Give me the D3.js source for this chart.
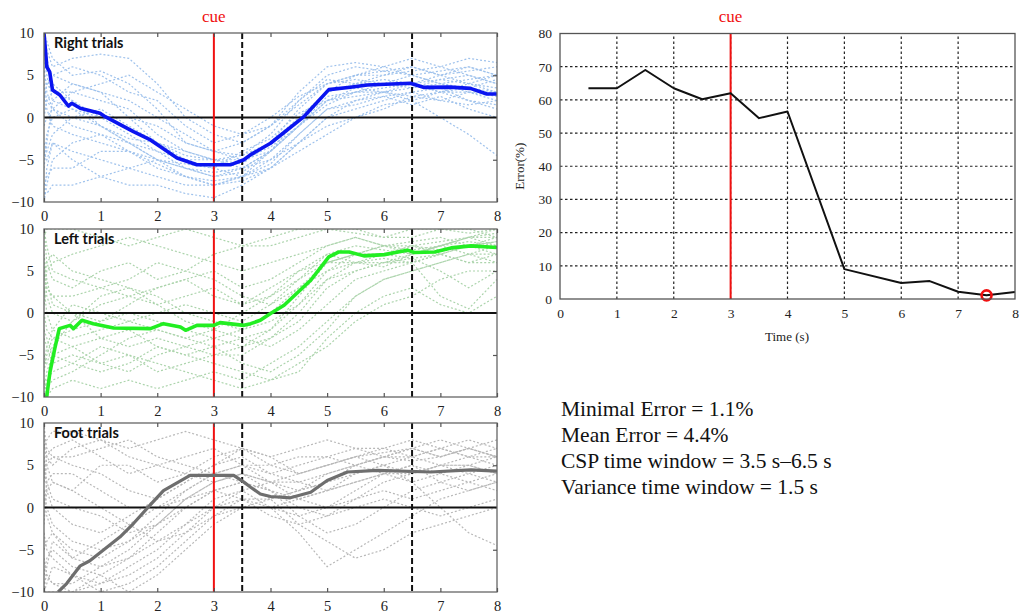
<!DOCTYPE html>
<html>
<head>
<meta charset="utf-8">
<script src="https://cdn.jsdelivr.net/npm/d3@7/dist/d3.min.js"></script>
<style>
  html, body { margin: 0; padding: 0; background: #fff; }
  svg { display: block; }
  .tick text { font-family: "Liberation Serif", "DejaVu Serif", serif; fill: #222; }
</style>
</head>
<body>
<svg id="chart" width="1030" height="614"></svg>
<script>
// ---- time grid shared by the single-trial traces (s) ----
const trialTimes = [0, 0.05, 0.15, 0.5, 1, 1.5, 2, 2.5, 3, 3.5, 4, 4.5, 5, 5.5, 6, 6.5, 7, 7.5, 8];

// ---- right-hand trials: single traces ----
const rightTrials = [
  [10, 8, 6, 7, 7.5, 7, 4, 0, -2, -3, -1, 2, 5, 6, 5.5, 6, 5, 5.5, 6],
  [-10, -6, -3, -5, -7, -8, -8, -9, -9.5, -8, -6, -3, 0, 1, 2, 3, 2, 1.5, 2],
  [5, 4, 3, 2, 0, -2, -4, -6, -7, -6, -4, -1, 2, 3, 3.5, 4, 3, 3, 2.5],
  [-5, -2, 0, 1, -1, -3, -5, -6, -6.5, -6, -4, 0, 3, 4, 4.5, 4, 4.5, 4, 3.5],
  [8, 6, 5, 4, 3, 0, -3, -5, -5, -5.5, -3, 1, 4, 5, 5, 6, 5, 6, 5],
  [0, 2, 3, 3, 2, 1, -2, -4, -5, -4.5, -2, 2, 4.5, 4, 5, 5.5, 6, 5, 4],
  [-8, -7, -6, -6, -4, -4, -6, -7, -7.5, -7, -5, -3, -1, 0, 1.5, 2, 0, -2, -4.5],
  [3, 1, -1, -2, -3, -4, -5, -5.5, -6, -4, -2.5, 0.5, 2, 2.5, 3, 3.5, 4, 3, 3],
  [10, 9, 7, 5, 5.5, 4, 1, -3, -4, -3, -1, 3, 6, 6.5, 6, 5, 4, 4.5, 5],
  [-3, -4, -2, 0, -1, -2.5, -3, -4, -5, -6, -5, -2, 1, 2, 2.5, 3, 3.5, 2, 1.5],
  [6, 3, 1, 0, 1, -1, -3, -4.5, -5, -5, -3.5, -1, 2.5, 3, 4, 4, 5, 4, 3],
  [-10, -8, -5, -3, -2, -4, -5.5, -7, -8, -7.5, -6, -4, -2, 0, 1, 2.5, 2, 3, 2],
  [-6, -3, 2, 4, 3, 2, 0, -2, -4, -5, -4, -1, 3, 4, 4, 3.5, 4.5, 5, 4],
  [9, 7, 4, 2, -1, -3, -4, -5, -6, -7, -6, -3, 0, 2, 3, 4, 3, 3.5, 3],
  [-9, -9, -8, -8, -7, -6, -5, -6, -7, -6.5, -4, -1, 1.5, 3, 3, 2.5, 3, 4, 5],
  [2, 4, 5, 6, 5, 3, 2, -1, -3, -2, 0, 2.5, 4, 5, 6, 7, 6, 7, 6.5],
  [-1, 0, 1, -1, -2, -3, -5, -7, -8, -7, -4, -1, 2, 3.5, 3, 2, 3, 2, 1],
  [7, 5, 2, 1, 0, 0, -1, -3, -4, -4.5, -3, 0, 3, 5, 5.5, 5, 4, 3.5, 4.5],
  [-4, -5, -3, -4, -5, -6, -7, -8, -8, -7, -5.5, -2, 1, 1.5, 2.5, 1.5, 2.5, 1, 0],
  [4, 2, 1, 3, 4, 5, 3, 1, -1, -2, -1, 1.5, 4, 4.5, 4, 5, 5.5, 6, 5]
];
// right-hand trials: average trace
const rightMeanT = [0, 0.05, 0.1, 0.15, 0.28, 0.43, 0.49, 0.64, 0.99, 1.08, 1.58, 1.88, 2.35, 2.7, 3.29, 3.53, 3.65, 4.0, 4.59, 5.03, 5.41, 5.71, 6.47, 6.7, 7.17, 7.53, 7.82, 8.0];
const rightMeanV = [10, 6.0, 5.4, 3.25, 2.66, 1.36, 1.68, 1.09, 0.5, 0.1, -1.68, -2.66, -4.8, -5.6, -5.6, -5.0, -4.4, -3.05, 0.1, 3.3, 3.57, 3.85, 4.05, 3.57, 3.6, 3.45, 2.78, 2.78];

// ---- left-hand trials: single traces ----
const leftTrials = [
  [10, 6, 4, 3, 5, 6, 4, 5, 7, 8, 9, 10, 10, 9.5, 9, 10, 10, 9.5, 10],
  [-10, -8, -7, -6, -4, -5, -7, -6, -5, -4, -2, 2, 6, 7, 7, 8, 8.5, 9, 8],
  [3, 0, -2, -3, -2, -1, 0, 1, 0, -1, 1, 4, 7, 8, 7.5, 7, 8, 9, 9],
  [-5, -6, -4, -1, 2, 3, 2, 0, -1, -2, 0, 3, 6, 6, 5.5, 7, 8, 8.5, 8],
  [7, 4, 1, 0, -3, -4, -3, -4, -5, -5, -3, -1, 3, 5, 6, 6, 7, 6, 7],
  [-8, -9, -8, -7, -5, -3, -2, -3, -2, -3, -4, -2, 1, 4, 5, 6, 2, 0.5, 4],
  [0, -2, -3, -4, -6, -7, -5, -4, -3, -2, -1, 1, 5, 7, 8, 7.5, 8, 9, 9.5],
  [10, 8, 5, 4, 3, 2, 3, 4, 5, 3, 4, 6, 8, 9, 8, 8.5, 9, 8, 8.5],
  [-3, -4, -2, 1, 0, -1, -2, -3, -4, -6, -7, -5, -2, 2, 4, 5, 6, 7, 7],
  [5, 2, 0, -1, 1, 2, 1, -1, -2, 0, 2, 4, 6, 7, 7, 6.5, 5, 3, 5],
  [-10, -10, -9, -8, -9, -8, -9, -8, -7, -8, -6, -4, -1, 2, 4, 5, 6, 7, 6],
  [2, 5, 6, 7, 8, 9, 8, 7, 6, 5, 6, 7, 8, 9, 8, 7, 8, 9, 10],
  [-7, -5, -3, -2, -1, 0, -1, -2, -3, -4, -3, 0, 4, 6, 7, 8, 7, 8, 9],
  [4, 6, 7, 5, 4, 3, 1, 2, 3, 1, 2, 5, 7, 6, 6, 6.5, 7, 8, 7],
  [-2, -3, -5, -6, -7, -6, -4, -5, -6, -7, -8, -7, -3, 0, 2, 3, 1, 0, 2],
  [9, 10, 10, 10, 9, 8, 9, 10, 9, 8, 8, 9, 10, 10, 9, 9, 10, 10, 9],
  [-9, -7, -5, -4, -3, -2, -4, -5, -4, -3, -2, 1, 4, 5, 6, 7, 8, 7, 8],
  [1, 3, 2, 0, -1, 1, 3, 4, 2, 1, 3, 5, 6, 7, 8, 8, 7.5, 8, 8.5],
  [6, 3, 2, 2, 3, 4, 6, 5, 4, 2, 1, 3, 5, 6, 6.5, 6, 7, 6, 6],
  [-6, -4, -6, -5, -6, -5, -6, -7, -8, -9, -8, -6, -4, -1, 1, 2, 4, 5, 5]
];
// left-hand trials: average trace
const leftMeanT = [0.047, 0.106, 0.19, 0.27, 0.46, 0.52, 0.67, 0.87, 1.23, 1.88, 2.11, 2.41, 2.5, 2.7, 3.0, 3.11, 3.53, 3.65, 3.82, 4.0, 4.24, 4.71, 5.03, 5.21, 5.39, 5.65, 6.01, 6.42, 6.54, 6.9, 7.19, 7.54, 8.0];
const leftMeanV = [-10, -7.0, -4.25, -1.86, -1.47, -1.86, -0.87, -1.27, -1.78, -1.86, -1.27, -1.66, -2.06, -1.47, -1.47, -1.15, -1.47, -1.27, -0.87, -0.07, 0.92, 3.9, 6.68, 7.27, 7.27, 6.8, 6.95, 7.48, 7.2, 7.27, 7.75, 7.99, 7.8];

// ---- foot trials: single traces ----
const footTrials = [
  [10, 6, 5, 7, 8, 6, 5, 4, 6, 7, 5, 4, 5, 6, 7, 6, 5, 6, 7],
  [-10, -10, -10, -10, -8, -6, -3, 0, 2, 3, 2, 0, -1, 1, 3, 4, 5, 4, 5],
  [5, 2, 0, -2, -3, -1, 1, 3, 5, 6, 4, 3, 4, 5, 6, 5.5, 6, 7, 6],
  [-6, -8, -9, -10, -9, -7, -5, -2, 1, 2, 0, -3, -7, -5, -3, -1, 1, 2, 3],
  [0, 3, 4, 4, 2, 0, 0, 2, 4, 5, 3, 1, 0, 2, 4, 5, 4, 3, 4],
  [8, 5, 3, 2, 5, 5, 3, 4, 3, 4, 3, 2, 3, 5, 6, 7, 8, 7, 8],
  [-3, -5, -6, -8, -10, -9, -7, -4, -1, 1, 1, 2, 3, 4, 5, 3, 0, -3, -4.5],
  [2, 0, -2, -4, -5, -4, -2, 1, 3, 4, 2, -1, -3, -2, 0, 2, 3, 2, 3],
  [-8, -6, -5, -7, -8, -10, -8, -5, -2, 0, 1, 2, 4, 5, 6, 6, 7, 6, 6],
  [4, 6, 7, 8, 6, 4, 5, 6, 7, 5, 4, 5, 6, 7, 6, 7, 6, 7, 6],
  [-10, -7, -4, -6, -7, -6, -4, -3, 0, 1, 0, -1, 0, 1, 2, 1, 2, 3, 2],
  [6, 3, 1, 0, -1, -3, -2, 0, 2, 3, 2, 1, 2, 4, 5, 4, 5, 5, 4],
  [7, 8, 9, 9, 8, 7, 8, 9, 8, 7, 6, 7, 8, 7, 7, 8, 7, 8, 7],
  [-5, -4, -3, -5, -6, -4, -1, 2, 4, 3, 1, -2, -4, -6, -5, -3, -2, -1, 0],
  [3, 5, 6, 5, 4, 2, 1, 3, 5, 7, 6, 4, 5, 6, 5, 6, 7, 6, 5],
  [-9, -8, -9, -9, -7, -5, -2, 1, 3, 4, 3, 4, 5, 6, 6.5, 7, 6, 7, 6],
  [1, -1, -3, -6, -4, -2, 0, 1, 2, 1, -1, -2, -1, 0, 1, 0, -1, 0, 1],
  [9, 7, 6, 6, 7, 8, 6, 5, 4, 5, 5, 6, 6, 5, 4, 3, 4, 5, 6],
  [-2, 2, 3, 2, 0, -2, -4, -2, 0, 2, 3, 3, 2, 3, 4, 5, 3, 4, 3],
  [-10, -9, -7, -8, -9, -8, -6, -3, -1, 0, 0, 1, 2, 3, 4, 4, 5, 5, 4]
];
// foot trials: average trace
const footMeanT = [0.25, 0.4, 0.64, 0.81, 1.34, 1.58, 1.84, 2.11, 2.58, 3.35, 3.53, 3.65, 3.82, 4.0, 4.35, 4.71, 5.0, 5.36, 5.89, 6.83, 7.54, 8.0];
const footMeanV = [-10.0, -9.0, -6.9, -6.3, -3.5, -1.9, 0.04, 2.0, 3.8, 3.8, 3.0, 2.4, 1.6, 1.3, 1.15, 1.8, 3.2, 4.2, 4.4, 4.2, 4.45, 4.3];

// ---- classification error vs. time ----
const errorTimes = [0.5, 1, 1.5, 2, 2.5, 3, 3.5, 4, 5, 6, 6.5, 7, 7.5, 8];
const errorValues = [63.5, 63.5, 69, 63.5, 60.2, 62, 54.5, 56.5, 9, 4.8, 5.4, 2.2, 1.1, 2.1];
const minErrorTime = 7.5;

// ---- event markers (s) ----
const cueTime = 3;
const windowTimes = [3.5, 6.5];

const statLines = [
  "Minimal Error = 1.1%",
  "Mean Error = 4.4%",
  "CSP time window = 3.5 s\u20136.5 s",
  "Variance time window = 1.5 s"
];

const panels = [
  { title: "Right trials", trials: rightTrials, meanT: rightMeanT, meanV: rightMeanV,
    top: 33, bottom: 202, trialColor: "#9fc2ec", meanColor: "#0a14f0", meanWidth: 3.6, cue: true },
  { title: "Left trials", trials: leftTrials, meanT: leftMeanT, meanV: leftMeanV,
    top: 229, bottom: 397, trialColor: "#acd4ac", meanColor: "#22ee22", meanWidth: 3.6, cue: false },
  { title: "Foot trials", trials: footTrials, meanT: footMeanT, meanV: footMeanV,
    top: 423, bottom: 592, trialColor: "#b8b8b8", meanColor: "#6e6e6e", meanWidth: 3.2, cue: false }
];

const svg = d3.select("#chart");
const serif = '"Liberation Serif", "DejaVu Serif", serif';

const x = d3.scaleLinear().domain([0, 8]).range([44, 497]);

panels.forEach((p, i) => {
  const y = d3.scaleLinear().domain([-10, 10]).range([p.bottom, p.top]);
  const g = svg.append("g");
  const clipId = "clip" + i;
  svg.append("clipPath").attr("id", clipId)
    .append("rect").attr("x", x(0)).attr("y", p.top).attr("width", x(8) - x(0)).attr("height", p.bottom - p.top);

  const plot = g.append("g").attr("clip-path", `url(#${clipId})`);

  const line = d3.line().x(d => x(d[0])).y(d => y(d[1]));

  // single trials
  plot.selectAll("path.trial").data(p.trials).join("path")
    .attr("class", "trial")
    .attr("d", vals => line(vals.map((v, k) => [trialTimes[k], v])))
    .attr("fill", "none").attr("stroke", p.trialColor)
    .attr("stroke-width", 1.2).attr("stroke-dasharray", "2,2");

  // zero line
  plot.append("line").attr("x1", x(0)).attr("x2", x(8)).attr("y1", y(0)).attr("y2", y(0))
    .attr("stroke", "#111").attr("stroke-width", 2.2);

  // cue and window markers
  plot.append("line").attr("x1", x(cueTime)).attr("x2", x(cueTime)).attr("y1", p.top).attr("y2", p.bottom)
    .attr("stroke", "#f01010").attr("stroke-width", 2);
  windowTimes.forEach(t => {
    plot.append("line").attr("x1", x(t)).attr("x2", x(t)).attr("y1", p.top).attr("y2", p.bottom)
      .attr("stroke", "#111").attr("stroke-width", 2).attr("stroke-dasharray", "6,3");
  });

  // average trace
  plot.append("path")
    .attr("d", line(p.meanT.map((t, k) => [t, p.meanV[k]])))
    .attr("fill", "none").attr("stroke", p.meanColor).attr("stroke-width", p.meanWidth)
    .attr("stroke-linejoin", "round");

  // frame
  g.append("rect").attr("x", x(0)).attr("y", p.top).attr("width", x(8) - x(0)).attr("height", p.bottom - p.top)
    .attr("fill", "none").attr("stroke", "#666").attr("stroke-width", 1.3);

  // axes
  const xb = g.append("g").attr("transform", `translate(0,${p.bottom})`)
    .call(d3.axisBottom(x).ticks(8).tickSizeInner(-4).tickSizeOuter(0).tickPadding(9));
  const xt = g.append("g").attr("transform", `translate(0,${p.top})`)
    .call(d3.axisTop(x).ticks(8).tickSizeInner(-4).tickSizeOuter(0).tickFormat(""));
  const yl = g.append("g").attr("transform", `translate(${x(0)},0)`)
    .call(d3.axisLeft(y).tickValues([-10, -5, 0, 5, 10]).tickSize(0).tickPadding(10));
  const yr = g.append("g").attr("transform", `translate(${x(8)},0)`)
    .call(d3.axisRight(y).tickValues([-5, 5]).tickSizeInner(-4).tickSizeOuter(0).tickFormat(""));
  [xb, xt, yl, yr].forEach(a => {
    a.select(".domain").remove();
    a.selectAll(".tick line").attr("stroke", "#555").attr("stroke-width", 1.2);
    a.selectAll(".tick text").attr("font-size", 14.5);
  });

  // title
  g.append("text").attr("x", 54).attr("y", p.top + 15)
    .attr("font-family", "Lato, 'Open Sans', sans-serif").attr("font-weight", "bold")
    .attr("font-size", 14.5).attr("fill", "#111").text(p.title);

  if (p.cue) {
    svg.append("text").attr("x", x(cueTime)).attr("y", 22).attr("text-anchor", "middle")
      .attr("font-family", serif).attr("font-size", 17).attr("fill", "#f01010").text("cue");
  }
});

// ---- error chart ----
const ex = d3.scaleLinear().domain([0, 8]).range([560, 1015]);
const ey = d3.scaleLinear().domain([0, 80]).range([299, 33.5]);
const eg = svg.append("g");

// grid
eg.append("g").selectAll("line").data(d3.range(1, 8)).join("line")
  .attr("x1", d => ex(d)).attr("x2", d => ex(d)).attr("y1", ey(0)).attr("y2", ey(80))
  .attr("stroke", "#222").attr("stroke-width", 1.2).attr("stroke-dasharray", "2.5,2.5");
eg.append("g").selectAll("line").data(d3.range(10, 80, 10)).join("line")
  .attr("x1", ex(0)).attr("x2", ex(8)).attr("y1", d => ey(d)).attr("y2", d => ey(d))
  .attr("stroke", "#222").attr("stroke-width", 1.2).attr("stroke-dasharray", "2.5,2.5");

// cue marker
eg.append("line").attr("x1", ex(cueTime)).attr("x2", ex(cueTime)).attr("y1", ey(0)).attr("y2", ey(80))
  .attr("stroke", "#f01010").attr("stroke-width", 2);
svg.append("text").attr("x", ex(cueTime)).attr("y", 22).attr("text-anchor", "middle")
  .attr("font-family", serif).attr("font-size", 17).attr("fill", "#f01010").text("cue");

// error curve
eg.append("path")
  .attr("d", d3.line().x((d, k) => ex(errorTimes[k])).y(d => ey(d))(errorValues))
  .attr("fill", "none").attr("stroke", "#111").attr("stroke-width", 2).attr("stroke-linejoin", "round");

// minimum marker
const minIdx = errorTimes.indexOf(minErrorTime);
eg.append("circle").attr("cx", ex(minErrorTime)).attr("cy", ey(errorValues[minIdx])).attr("r", 5)
  .attr("fill", "none").attr("stroke", "#f01010").attr("stroke-width", 2.6);

// frame
eg.append("rect").attr("x", ex(0)).attr("y", ey(80)).attr("width", ex(8) - ex(0)).attr("height", ey(0) - ey(80))
  .attr("fill", "none").attr("stroke", "#555").attr("stroke-width", 1.3);

const exa = eg.append("g").attr("transform", `translate(0,${ey(0)})`)
  .call(d3.axisBottom(ex).ticks(8).tickSize(0).tickPadding(9));
const eya = eg.append("g").attr("transform", `translate(${ex(0)},0)`)
  .call(d3.axisLeft(ey).tickValues(d3.range(0, 81, 10)).tickSize(0).tickPadding(8));
[exa, eya].forEach(a => {
  a.select(".domain").remove();
  a.selectAll(".tick text").attr("font-size", 13.5);
});

eg.append("text").attr("transform", `translate(524,${(ey(0) + ey(80)) / 2}) rotate(-90)`)
  .attr("text-anchor", "middle").attr("font-family", serif).attr("font-size", 13).attr("fill", "#222")
  .text("Error(%)");
eg.append("text").attr("x", 787).attr("y", 341).attr("text-anchor", "middle")
  .attr("font-family", serif).attr("font-size", 13).attr("fill", "#222").text("Time (s)");

// ---- summary text ----
svg.append("g").selectAll("text").data(statLines).join("text")
  .attr("x", 561).attr("y", (d, k) => 416 + k * 26)
  .attr("font-family", serif).attr("font-size", 21.5).attr("fill", "#111")
  .text(d => d);
</script>
</body>
</html>
